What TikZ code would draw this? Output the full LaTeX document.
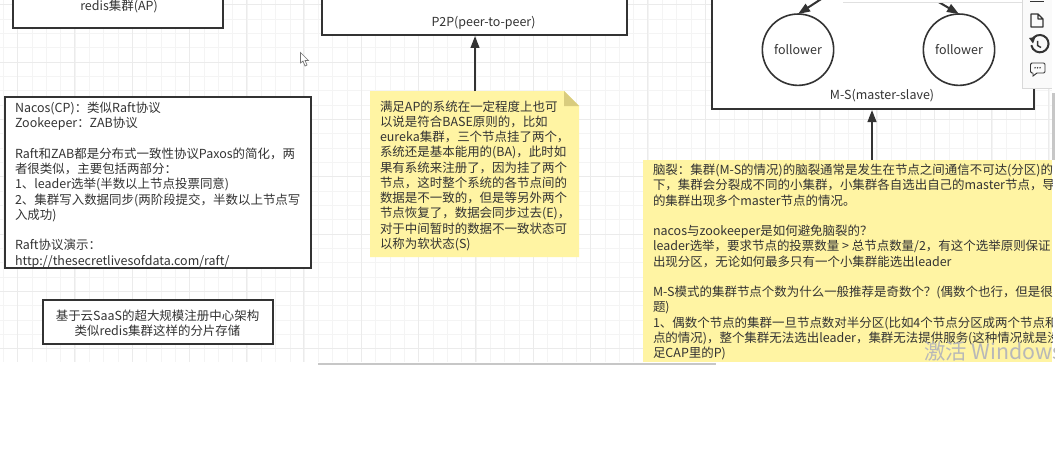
\documentclass[tikz,border=0pt]{standalone}
\usepackage{fontspec}
\setmainfont{Noto Sans CJK SC}
\usetikzlibrary{arrows.meta}
\definecolor{ink}{HTML}{333333}
\definecolor{notey}{HTML}{FFF4A3}
\definecolor{notefold}{HTML}{D9CC7E}
\definecolor{gridminor}{HTML}{F4F4F4}
\definecolor{gridmajor}{HTML}{EBEBEB}
\tikzset{
  x=0.75pt,y=-0.75pt,
  txt/.style={font=\fontsize{9.35}{11.45}\selectfont,text=ink,inner sep=0pt,outer sep=0pt,align=left,anchor=north west},
  ctr/.style={font=\fontsize{9.35}{11.45}\selectfont,text=ink,inner sep=0pt,outer sep=0pt,align=center},
  frame/.style={draw=ink,line width=1.5pt,fill=white,inner sep=0pt},
  peer/.style={draw=ink,line width=1.2pt,circle,fill=white,minimum size=53.5pt,inner sep=0pt,outer sep=0pt,font=\fontsize{9.35}{11.45}\selectfont,text=ink},
  link/.style={draw=ink,line width=1.5pt,-{Triangle[length=9pt,width=6.5pt]}},
  ghost/.style={inner sep=0pt,outer sep=0pt},
}
\begin{document}
\begin{tikzpicture}
\useasboundingbox (0,0) rectangle (1055,460);
\fill[white] (0,0) rectangle (1055,460);
% grid
\begin{scope}
\clip (0,0) rectangle (1052,362);
\foreach \i in {0,...,74} {\draw[gridminor,line width=0.75pt] ({3.4+14.33*\i},0) -- ({3.4+14.33*\i},362);}
\foreach \i in {0,...,26} {\draw[gridminor,line width=0.75pt] (0,{5+14.33*\i}) -- (1052,{5+14.33*\i});}
\foreach \i in {0,...,18} {\draw[gridmajor,line width=0.75pt] ({17.4+57.3*\i},0) -- ({17.4+57.3*\i},362);}
\foreach \i in {0,...,6} {\draw[gridmajor,line width=0.75pt] (0,{5+57.3*\i}) -- (1052,{5+57.3*\i});}
\end{scope}
% scrollbars
\fill[black!22] (318,362.5) rectangle (716,365);
\fill[black!22] (1052,93) rectangle (1055,160);
% top boxes
\node[frame,minimum width=157.5pt,minimum height=24pt] (redis) at (118,12) {};
\node[ctr] (redislabel) at (119,6) {redis集群(AP)};
\node[frame,minimum width=228.75pt,minimum height=39pt] (ptp) at (474.5,9) {};
\node[ctr] (ptplabel) at (483.5,22.5) {P2P(peer-to-peer)};
\node[frame,minimum width=241.5pt,minimum height=90pt] (ms) at (873,49) {};
\node[ctr] (mslabel) at (882,96) {M-S(master-slave)};
\node[peer] (f1) at (798,49.7) {\raisebox{-1pt}{follower}};
\node[peer] (f2) at (959,49.7) {\raisebox{-1pt}{follower}};
\coordinate (fa) at (829,-6);
\coordinate (fb) at (925,-6);
\draw[link] (fa) -- (f1.north);
\draw[link] (fb) -- (f2.north);
% popup edge
\fill[white] (843,-2) rectangle (1022,2);
\draw[black!12,line width=0.75pt] (843,2.3) -- (1022,2.3);
% nacos box
\node[frame,minimum width=229.5pt,minimum height=128pt] (nacos) at (158,182.5) {};
\node[txt] (nacostxt) at (15,102) {Nacos(CP)：类似Raft协议\\Zookeeper：ZAB协议\\\mbox{}\\Raft和ZAB都是分布式一致性协议Paxos的简化，两\\者很类似，主要包括两部分：\\1、leader选举(半数以上节点投票同意)\\2、集群写入数据同步(两阶段提交，半数以上节点写\\入成功)\\\mbox{}\\Raft协议演示：\\http://thesecretlivesofdata.com/raft/};
% saas box
\node[frame,minimum width=172.5pt,minimum height=33pt] (saas) at (157.5,322) {};
\node[ctr] (saaslabel) at (157.5,323.5) {基于云SaaS的超大规模注册中心架构\\类似redis集群这样的分片存储};
% note 1
\node[ghost,minimum width=156.75pt,minimum height=124.5pt] (note1) at (474.5,174) {};
\fill[notey] (note1.north west) -- ([xshift=-11.25pt]note1.north east) -- ([yshift=-11.25pt]note1.north east) -- (note1.south east) -- (note1.south west) -- cycle;
\fill[notefold] ([xshift=-11.25pt]note1.north east) -- ([yshift=-11.25pt]note1.north east) -- ([xshift=-11.25pt,yshift=-11.25pt]note1.north east) -- cycle;
\node[txt] (note1txt) at (380,100.5) {满足AP的系统在一定程度上也可\\以说是符合BASE原则的，比如\\eureka集群，三个节点挂了两个，\\系统还是基本能用的(BA)，此时如\\果有系统来注册了，因为挂了两个\\节点，这时整个系统的各节点间的\\数据是不一致的，但是等另外两个\\节点恢复了，数据会同步过去(E)，\\对于中间暂时的数据不一致状态可\\以称为软状态(S)};
% note 2
\node[ghost,fill=notey,minimum width=306.75pt,minimum height=151.5pt] (note2) at (847.5,261) {};
\begin{scope}
\clip (643,160) rectangle (1052,362);
\node[txt] (note2txt) at (653,164) {脑裂：集群(M-S的情况)的脑裂通常是发生在节点之间通信不可达(分区)的\\下，集群会分裂成不同的小集群，小集群各自选出自己的master节点，导\\的集群出现多个master节点的情况。\\\mbox{}\\nacos与zookeeper是如何避免脑裂的？\\leader选举，要求节点的投票数量 > 总节点数量/2，有这个选举原则保证\\出现分区，无论如何最多只有一个小集群能选出leader\\\mbox{}\\M-S模式的集群节点个数为什么一般推荐是奇数个？(偶数个也行，但是很\\题)\\1、偶数个节点的集群一旦节点数对半分区(比如4个节点分区成两个节点和\\点的情况)，整个集群无法选出leader，集群无法提供服务(这种情况就是没\\足CAP里的P)};
\end{scope}
% connectors
\draw[link] (note1.north) ++(0.5,0) -- (ptp.south -| 475,0);
\draw[link] (note2.north -| ms.south) ++(-1,0) -- (ms.south -| 872,0);
% watermark
\begin{scope}
\clip (900,330) rectangle (1055,370);
\node[font=\fontsize{16}{18}\selectfont,text=black!28,inner sep=0pt,anchor=west] (wm) at (924,351) {激活 Windows};
\end{scope}
% cursor
\draw[black!55,fill=white,line width=0.5pt] (300.5,52.5) -- (300.5,63) -- (303,61) -- (305,66) -- (307,65) -- (305,60.5) -- (308.5,60.5) -- cycle;
% toolbar
\fill[black!2] (1022,-3) rectangle (1052,88);
\draw[black!15,line width=0.75pt] (1022,-3) -- (1022,88) -- (1052,88);
\draw[ink,line width=1.1pt] (1030,1.5) -- (1044,1.5);
\draw[ink,line width=0.9pt,line join=round] (1031,14) -- (1038,14) -- (1043,19) -- (1043,27) -- (1031,27) -- cycle (1038,14) -- (1038,19) -- (1043,19);
\draw[ink,line width=1.5pt] (1032,40) arc[start angle=155,end angle=-170,radius=6.5pt];
\fill[ink] (1029,38) -- (1035.5,37) -- (1033,43.5) -- cycle;
\draw[ink,line width=1.1pt] (1037.5,41) -- (1037.5,45.5) -- (1041,47.5);
\draw[ink,line width=0.7pt,rounded corners=1pt] (1030.5,63) rectangle (1045,73);
\fill[black!2] (1033,72) rectangle (1037,74);
\draw[ink,line width=0.7pt] (1033,73) -- (1033,76) -- (1037,73);
\foreach \x in {1035,1037.5,1040} {\fill[ink] (\x,67.8) circle (0.6pt);}
\end{tikzpicture}
\end{document}
